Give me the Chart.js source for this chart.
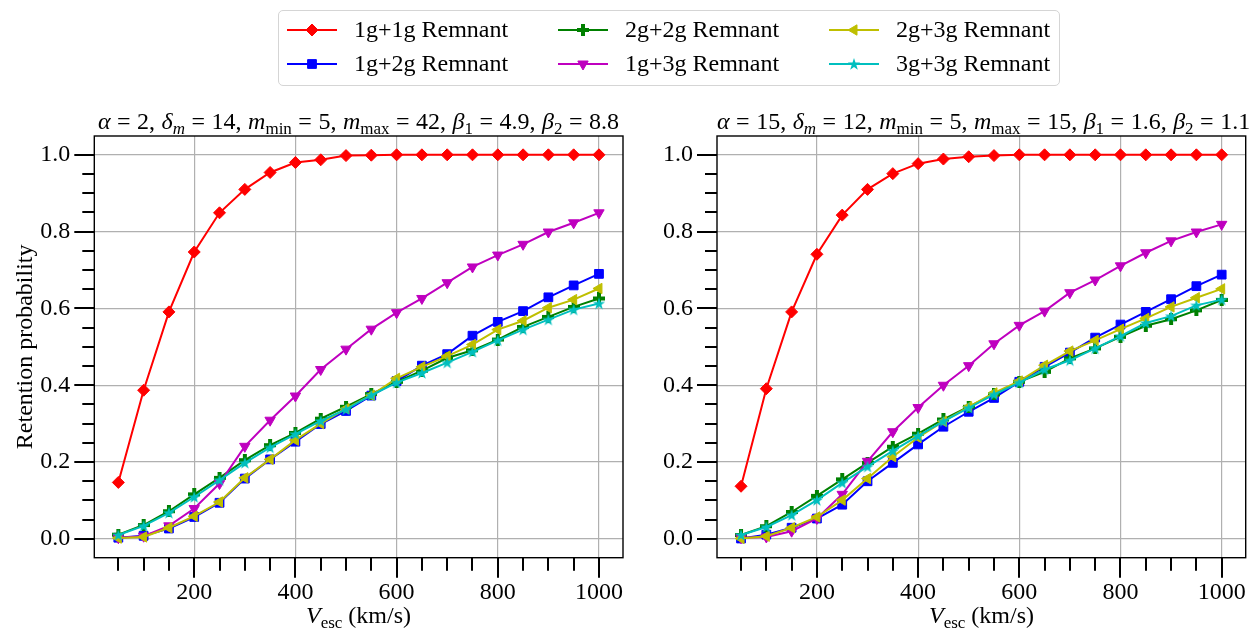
<!DOCTYPE html>
<html>
<head>
<meta charset="utf-8">
<script src="https://cdn.jsdelivr.net/npm/chart.js@4/dist/chart.umd.min.js"></script>
<style>
body { margin: 0; background: #fff; }
#wrap { position: relative; width: 1255px; height: 633px; overflow: hidden; font-family: "Liberation Serif", "Times New Roman", serif; color: #000; }
#wrap > canvas { position: absolute; top: 0; }
.ttl, .xlab { position: absolute; font-size: 24px; line-height: 28px; text-align: center; white-space: nowrap; }
.ttl { word-spacing: 0.5px; }
.sb { font-size: 17px; position: relative; top: 5px; }
#legendBox { position: absolute; left: 278px; top: 10px; width: 782px; height: 76px; border: 1px solid #d5d5d5; border-radius: 5px; box-sizing: border-box; }
.li { position: absolute; height: 28px; font-size: 24px; line-height: 28px; white-space: nowrap; }
.li canvas { position: absolute; left: 0; top: 0; }
.li span { position: absolute; left: 68px; top: 0; }
</style>
</head>
<body>
<div id="wrap">
  <div id="legendBox"></div>
  <canvas id="chartA" width="640" height="633" style="left:0"></canvas>
  <canvas id="chartB" width="615" height="633" style="left:640px"></canvas>
  <div class="ttl" style="left:94px;width:529px;top:107px"><i>α</i> = 2, <i>δ</i><span class="sb"><i>m</i></span> = 14, <i>m</i><span class="sb">min</span> = 5, <i>m</i><span class="sb">max</span> = 42, <i>β</i><span class="sb">1</span> = 4.9, <i>β</i><span class="sb">2</span> = 8.8</div>
  <div class="ttl" style="left:717px;width:529px;top:107px"><i>α</i> = 15, <i>δ</i><span class="sb"><i>m</i></span> = 12, <i>m</i><span class="sb">min</span> = 5, <i>m</i><span class="sb">max</span> = 15, <i>β</i><span class="sb">1</span> = 1.6, <i>β</i><span class="sb">2</span> = 1.1</div>
  <div class="xlab" style="left:94px;width:529px;top:601px"><i>V</i><span class="sb">esc</span> (km/s)</div>
  <div class="xlab" style="left:717px;width:529px;top:601px"><i>V</i><span class="sb">esc</span> (km/s)</div>
</div>
<script>
// escape velocity grid (km/s)
const vEsc = [50, 100, 150, 200, 250, 300, 350, 400, 450, 500, 550, 600, 650, 700, 750, 800, 850, 900, 950, 1000];

const xTickValues = [50, 100, 150, 200, 250, 300, 350, 400, 450, 500, 550, 600, 650, 700, 750, 800, 850, 900, 950, 1000];
const xMajorTicks = [200, 400, 600, 800, 1000];
const xTickLabels = ['200', '400', '600', '800', '1000'];
const yTickValues = [0, 0.05, 0.1, 0.15, 0.2, 0.25, 0.3, 0.35, 0.4, 0.45, 0.5, 0.55, 0.6, 0.65, 0.7, 0.75, 0.8, 0.85, 0.9, 0.95, 1.0];
const yMajorTicks = [0, 0.2, 0.4, 0.6, 0.8, 1.0];
const yTickLabels = ['0.0', '0.2', '0.4', '0.6', '0.8', '1.0'];

const seriesNames = ['1g+1g Remnant', '1g+2g Remnant', '2g+2g Remnant', '1g+3g Remnant', '2g+3g Remnant', '3g+3g Remnant'];

// left panel: alpha = 2
const a2_11 = [0.147, 0.387, 0.591, 0.747, 0.849, 0.910, 0.954, 0.980, 0.987, 0.998, 0.999, 1.0, 1.0, 1.0, 1.0, 1.0, 1.0, 1.0, 1.0, 1.0];
const a2_12 = [0.003, 0.008, 0.027, 0.057, 0.094, 0.157, 0.207, 0.253, 0.299, 0.333, 0.373, 0.411, 0.451, 0.481, 0.529, 0.565, 0.593, 0.629, 0.660, 0.690];
const a2_22 = [0.011, 0.036, 0.072, 0.116, 0.159, 0.205, 0.244, 0.276, 0.313, 0.344, 0.377, 0.409, 0.438, 0.471, 0.491, 0.519, 0.552, 0.578, 0.604, 0.626];
const a2_13 = [0.003, 0.007, 0.034, 0.079, 0.144, 0.241, 0.309, 0.372, 0.441, 0.494, 0.546, 0.589, 0.626, 0.667, 0.708, 0.739, 0.767, 0.799, 0.823, 0.849];
const a2_23 = [0.002, 0.005, 0.029, 0.059, 0.096, 0.159, 0.207, 0.257, 0.300, 0.339, 0.374, 0.418, 0.448, 0.476, 0.506, 0.545, 0.568, 0.602, 0.623, 0.652];
const a2_33 = [0.010, 0.034, 0.068, 0.109, 0.153, 0.198, 0.238, 0.273, 0.307, 0.337, 0.374, 0.407, 0.432, 0.459, 0.487, 0.517, 0.545, 0.571, 0.597, 0.613];

// right panel: alpha = 15
const a15_11 = [0.137, 0.391, 0.591, 0.741, 0.843, 0.910, 0.951, 0.977, 0.989, 0.995, 0.998, 1.0, 1.0, 1.0, 1.0, 1.0, 1.0, 1.0, 1.0, 1.0];
const a15_12 = [0.001, 0.011, 0.029, 0.053, 0.089, 0.150, 0.198, 0.246, 0.292, 0.331, 0.367, 0.409, 0.448, 0.485, 0.524, 0.558, 0.591, 0.624, 0.658, 0.688];
const a15_22 = [0.010, 0.033, 0.070, 0.112, 0.155, 0.198, 0.240, 0.274, 0.311, 0.344, 0.376, 0.409, 0.435, 0.470, 0.496, 0.526, 0.555, 0.572, 0.595, 0.622];
const a15_13 = [0.003, 0.005, 0.020, 0.053, 0.116, 0.202, 0.279, 0.342, 0.400, 0.451, 0.508, 0.556, 0.593, 0.641, 0.674, 0.711, 0.745, 0.776, 0.799, 0.819];
const a15_23 = [0.001, 0.007, 0.029, 0.057, 0.101, 0.157, 0.214, 0.264, 0.306, 0.344, 0.380, 0.411, 0.452, 0.489, 0.517, 0.546, 0.574, 0.604, 0.628, 0.651];
const a15_33 = [0.010, 0.031, 0.062, 0.101, 0.146, 0.188, 0.229, 0.268, 0.306, 0.341, 0.376, 0.407, 0.441, 0.465, 0.496, 0.528, 0.562, 0.580, 0.608, 0.623];

const FONT = '"Liberation Serif", "Times New Roman", serif';
Chart.defaults.font.family = FONT;
Chart.defaults.font.size = 24;
Chart.defaults.color = '#000';

// filled plus and filled star markers (matplotlib 'P' and '*')
function plusMarker(color) {
  const c = document.createElement('canvas');
  c.width = 12; c.height = 12;
  const g = c.getContext('2d');
  g.fillStyle = color;
  g.fillRect(4, 0, 4, 12);
  g.fillRect(0, 4, 12, 4);
  return c;
}
function starMarker(color) {
  const c = document.createElement('canvas');
  c.width = 14; c.height = 14;
  const g = c.getContext('2d');
  g.fillStyle = color;
  g.beginPath();
  for (let i = 0; i < 10; i++) {
    const r = i % 2 ? 2.5 : 6.5;
    const ang = -Math.PI / 2 + i * Math.PI / 5;
    g.lineTo(7 + r * Math.cos(ang), 7.5 + r * Math.sin(ang));
  }
  g.closePath();
  g.fill();
  return c;
}

const styles = [
  { color: '#ff0000', pointStyle: 'rectRot', radius: 6, rotation: 0 },
  { color: '#0000ff', pointStyle: 'rect', radius: 6.2, rotation: 0 },
  { color: '#008000', pointStyle: plusMarker('#008000'), radius: 6, rotation: 0 },
  { color: '#bf00bf', pointStyle: 'triangle', radius: 6, rotation: 180 },
  { color: '#bfbf00', pointStyle: 'triangle', radius: 6, rotation: -90 },
  { color: '#00bfbf', pointStyle: starMarker('#00bfbf'), radius: 6, rotation: 0 }
];

function isMajor(v, list) {
  return list.some(m => Math.abs(m - v) < 1e-6);
}

const frameTicks = {
  id: 'frameTicks',
  afterDraw(chart) {
    const { ctx, chartArea: a, scales: { x, y } } = chart;
    ctx.save();
    ctx.strokeStyle = '#000';
    ctx.lineWidth = 2;
    x.ticks.forEach(t => {
      const px = Math.round(x.getPixelForValue(t.value));
      const len = isMajor(t.value, xMajorTicks) ? 20 : 13;
      ctx.beginPath(); ctx.moveTo(px, a.bottom); ctx.lineTo(px, a.bottom + len); ctx.stroke();
    });
    y.ticks.forEach(t => {
      const py = Math.round(y.getPixelForValue(t.value));
      const len = isMajor(t.value, yMajorTicks) ? 20 : 12;
      ctx.beginPath(); ctx.moveTo(a.left, py); ctx.lineTo(a.left - len, py); ctx.stroke();
    });
    ctx.lineWidth = 1.4;
    ctx.strokeRect(a.left, a.top, a.right - a.left, a.bottom - a.top);
    ctx.restore();
  }
};

function makeChart(id, series, yAxisWidth, padRight, showYTitle) {
  const datasets = series.map((arr, i) => ({
    label: seriesNames[i],
    data: vEsc.map((v, j) => ({ x: v, y: arr[j] })),
    borderColor: styles[i].color,
    backgroundColor: styles[i].color,
    borderWidth: 2,
    pointStyle: styles[i].pointStyle,
    pointRadius: styles[i].radius,
    pointRotation: styles[i].rotation,
    pointBackgroundColor: styles[i].color,
    pointBorderColor: styles[i].color,
    pointBorderWidth: 1,
    order: series.length - i
  }));
  return new Chart(document.getElementById(id), {
    type: 'line',
    data: { datasets },
    options: {
      responsive: false,
      animation: false,
      layout: { padding: { top: 136, right: padRight, bottom: 0, left: 0 } },
      plugins: { legend: { display: false }, tooltip: { enabled: false } },
      scales: {
        x: {
          type: 'linear', min: 2.5, max: 1047.5,
          afterBuildTicks: s => { s.ticks = xTickValues.map(v => ({ value: v })); },
          afterFit: s => { s.height = 75.3; s.paddingLeft = 0; s.paddingRight = 0; },
          border: { display: false },
          grid: {
            drawTicks: false, lineWidth: 1.2,
            color: c => (c.tick && isMajor(c.tick.value, xMajorTicks)) ? '#b0b0b0' : 'rgba(0,0,0,0)'
          },
          ticks: {
            autoSkip: false, maxRotation: 0, padding: 21,
            callback: v => { const i = xMajorTicks.indexOf(v); return i < 0 ? '' : xTickLabels[i]; }
          }
        },
        y: {
          type: 'linear', min: -0.049, max: 1.049,
          afterBuildTicks: s => { s.ticks = yTickValues.map(v => ({ value: v })); },
          afterFit: s => { s.width = yAxisWidth; s.paddingTop = 0; s.paddingBottom = 0; },
          border: { display: false },
          grid: {
            drawTicks: false, lineWidth: 1.2,
            color: c => (c.tick && isMajor(c.tick.value, yMajorTicks)) ? '#b0b0b0' : 'rgba(0,0,0,0)'
          },
          ticks: {
            autoSkip: false, padding: 24,
            callback: v => { const i = yMajorTicks.findIndex(m => Math.abs(m - v) < 1e-6); return i < 0 ? '' : yTickLabels[i]; }
          },
          title: { display: showYTitle, text: 'Retention probability', padding: { top: 11, bottom: 0 } }
        }
      }
    },
    plugins: [frameTicks]
  });
}

makeChart('chartA', [a2_11, a2_12, a2_22, a2_13, a2_23, a2_33], 94.3, 17, true);
makeChart('chartB', [a15_11, a15_12, a15_22, a15_13, a15_23, a15_33], 77, 9.3, false);

// legend: matplotlib ncol=3 fills column by column
const wrap = document.getElementById('wrap');
const legendCols = [286, 557, 828];
const legendRows = [15, 49];
seriesNames.forEach((name, i) => {
  const item = document.createElement('div');
  item.className = 'li';
  item.style.left = legendCols[Math.floor(i / 2)] + 'px';
  item.style.top = legendRows[i % 2] + 'px';
  const c = document.createElement('canvas');
  c.width = 52; c.height = 28;
  const g = c.getContext('2d');
  g.strokeStyle = styles[i].color;
  g.lineWidth = 2;
  g.beginPath(); g.moveTo(1, 15); g.lineTo(51, 15); g.stroke();
  g.fillStyle = styles[i].color;
  g.lineWidth = 1;
  Chart.helpers.drawPoint(g, {
    pointStyle: styles[i].pointStyle, rotation: styles[i].rotation,
    radius: styles[i].radius, borderWidth: 1
  }, 26, 15);
  const s = document.createElement('span');
  s.textContent = name;
  item.appendChild(c);
  item.appendChild(s);
  wrap.appendChild(item);
});
</script>
</body>
</html>
